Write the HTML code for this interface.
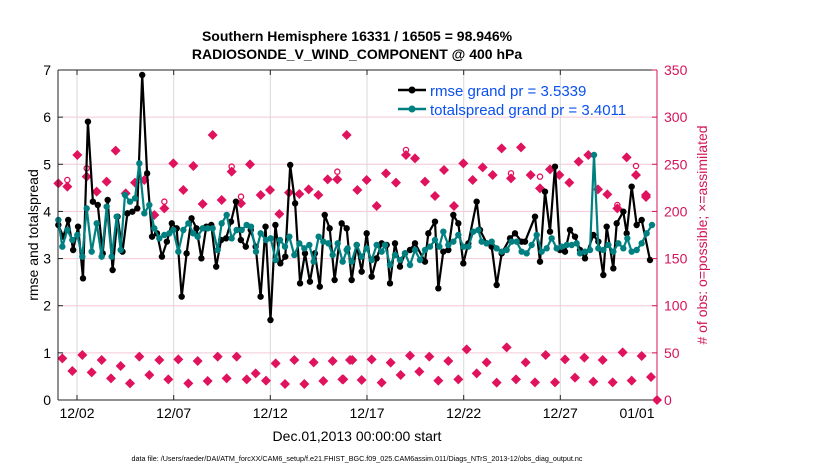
<!DOCTYPE html>
<html><head><meta charset="utf-8"><style>
html,body{margin:0;padding:0;background:#fff;}
svg{display:block;font-family:"Liberation Sans",Arial,sans-serif;}
</style></head><body>
<svg id="s" width="830" height="470" viewBox="0 0 830 470" xmlns="http://www.w3.org/2000/svg">
<rect width="830" height="470" fill="#fff"/>
<g id="grid"></g>
<g id="obs"></g>
<g id="lines"></g>
<g id="axes"></g>
<text x="357" y="41" font-size="14" font-weight="bold" text-anchor="middle">Southern Hemisphere 16331 / 16505 = 98.946%</text>
<text x="357" y="59" font-size="14" font-weight="bold" text-anchor="middle">RADIOSONDE_V_WIND_COMPONENT @ 400 hPa</text>
<text x="357" y="441" font-size="14" text-anchor="middle">Dec.01,2013 00:00:00 start</text>
<text x="357" y="461" font-size="7.2" text-anchor="middle">data file: /Users/raeder/DAI/ATM_forcXX/CAM6_setup/f.e21.FHIST_BGC.f09_025.CAM6assim.011/Diags_NTrS_2013-12/obs_diag_output.nc</text>
<text transform="translate(38,235) rotate(-90)" font-size="14" text-anchor="middle">rmse and totalspread</text>
<text transform="translate(707,235) rotate(-90)" font-size="14" fill="#d4145a" text-anchor="middle"># of obs: o=possible; ×=assimilated</text>
<line x1="398" y1="90" x2="426" y2="90" stroke="#000" stroke-width="2.5"/><circle cx="412" cy="90" r="3.5" fill="#000"/>
<text x="430" y="96" font-size="15" fill="#0a50f0">rmse grand pr = 3.5339</text>
<line x1="398" y1="109" x2="426" y2="109" stroke="#008080" stroke-width="2.5"/><circle cx="412" cy="109" r="3.5" fill="#008080"/>
<text x="430" y="115" font-size="15" fill="#0a50f0">totalspread grand pr = 3.4011</text>
</svg>
<script>
var NS="http://www.w3.org/2000/svg";
function el(p,t,a){var e=document.createElementNS(NS,t);for(var k in a)e.setAttribute(k,a[k]);document.getElementById(p).appendChild(e);return e;}
var L=58,R=657,T=70,B=400;
for(var i=1;i<7;i++){var y=B-i*(B-T)/7;el("grid","line",{x1:L,x2:R,y1:y,y2:y,stroke:"#f4c6d6","stroke-width":1});}
var xt=[77,173.7,270.3,367,463.7,560.3,657],xl=["12/02","12/07","12/12","12/17","12/22","12/27","01/01"];
xt.forEach(function(x,i){if(i<6)el("grid","line",{x1:x,x2:x,y1:T,y2:B,stroke:"#d8d8d8","stroke-width":1});
 el("axes","line",{x1:x,x2:x,y1:B,y2:B-5,stroke:"#222"});el("axes","line",{x1:x,x2:x,y1:T,y2:T+5,stroke:"#222"});
 var t=el("axes","text",{x:x-(i==6?20:0),y:418,"font-size":14,"text-anchor":"middle"});t.textContent=xl[i];});
el("axes","line",{x1:L,x2:R,y1:B,y2:B,stroke:"#222"});el("axes","line",{x1:L,x2:R,y1:T,y2:T,stroke:"#222"});
el("axes","line",{x1:L,x2:L,y1:T,y2:B,stroke:"#222"});el("axes","line",{x1:R,x2:R,y1:T,y2:B,stroke:"#d4145a"});
for(var i=0;i<=7;i++){var y=B-i*(B-T)/7;el("axes","line",{x1:L,x2:L+5,y1:y,y2:y,stroke:"#222"});
 var t=el("axes","text",{x:51,y:y+5,"font-size":14,"text-anchor":"end"});t.textContent=i;
 el("axes","line",{x1:R-5,x2:R,y1:y,y2:y,stroke:"#d4145a"});
 var t2=el("axes","text",{x:664,y:y+5,"font-size":14,fill:"#d4145a"});t2.textContent=i*50;}
var b1=[495,530,480,570,500,655,185,425,435,580,420,630,470,575,460,455,445,45,340,530,520,590,545,490,505,710,580,475,505,595,500,495,620,540,535,485,425,540,560,510,560,710,500,780,495,610,590,315,430,670,580,665,580,680,465,505,660];
var pb=[];b1.forEach(function(zy,i){pb.push([50+(25+i*14.8)/3,60+zy/3]);});
var b2=[[5,490],[20,505],[35,660],[50,555],[65,635],[80,520],[95,650],[110,595],[125,550],[140,555],[150,670],[165,550],[180,620],[195,580],[210,570],[225,550],[255,605],[265,520],[285,485],[295,685],[310,575],[325,570],[340,465],[355,490],[370,610],[385,550],[410,425],[420,510],[440,550],[455,560],[470,675],[485,580],[510,535],[525,520],[545,545],[555,545],[585,470],[600,605],[615,395],[630,515],[645,320],[660,570],[675,575],[690,510],[705,530],[720,570],[735,595],[760,525],[775,545],[790,645],[800,500],[820,625],[830,490],[850,455],[860,520],[875,380],[890,495],[905,480],[930,600]];
b2.forEach(function(p){pb.push([340+p[0]/3,60+p[1]/3]);});
var t1=[[25,480],[37,560],[52,510],[67,540],[82,525],[97,590],[110,445],[125,575],[140,490],[155,590],[170,440],[185,590],[200,470],[212,570],[225,405],[240,425],[255,415],[268,310],[283,460],[298,435],[313,505],[328,535],[343,525],[358,520],[370,510],[385,575],[400,510],[415,490],[430,520],[443,530],[458,505],[473,505],[488,505],[503,570],[515,490],[530,465],[545,535],[560,510],[575,510],[590,495],[603,500],[618,575],[632,520],[648,540],[662,535],[677,600],[690,540],[705,560],[718,530],[733,585],[748,550],[763,565],[778,555],[791,605],[806,530],[820,545],[835,550],[848,585],[863,550],[878,605],[893,565]];
var t2=[[20,570],[35,605],[50,555],[65,590],[80,565],[95,600],[110,555],[125,575],[135,555],[150,615],[165,585],[180,600],[195,580],[210,615],[225,570],[240,600],[255,570],[270,560],[285,540],[298,560],[310,515],[325,555],[340,545],[355,525],[370,560],[385,560],[400,515],[415,510],[425,545],[440,550],[455,545],[470,565],[485,575],[500,570],[515,545],[530,545],[545,575],[560,580],[575,555],[590,525],[605,575],[620,565],[635,535],[650,565],[665,560],[680,555],[695,555],[710,550],[720,580],[735,575],[750,570],[762,285],[775,565],[790,570],[805,555],[820,575],[835,550],[850,565],[862,535],[875,575],[890,570],[905,550],[920,520],[936,495]];
var pt=[];t1.forEach(function(p){pt.push([50+p[0]/3,60+p[1]/3]);});t2.forEach(function(p){pt.push([340+p[0]/3,60+p[1]/3]);});
function draw(pts,c){el("lines","polyline",{points:pts.map(function(p){return p[0].toFixed(1)+","+p[1].toFixed(1)}).join(" "),fill:"none",stroke:c,"stroke-width":2.2,"stroke-linejoin":"round"});
 pts.forEach(function(p){el("lines","circle",{cx:p[0],cy:p[1],r:3.2,fill:c});});}
var PK="#e0135e";
function dia(x,y){el("obs","path",{d:"M"+x+","+(y-5)+"L"+(x+5)+","+y+"L"+x+","+(y+5)+"L"+(x-5)+","+y+"Z",fill:PK});
 el("obs","path",{d:"M"+(x-4)+","+y+"H"+(x+4)+"M"+x+","+(y-4)+"V"+(y+4),stroke:PK,"stroke-width":1.5});}
function circ(x,y){el("obs","circle",{cx:x,cy:y,r:2.6,fill:"none",stroke:PK,"stroke-width":1.3});}
var u1=[[25,370],[52,380,360],[82,285],[110,350,325],[140,395],[170,365],[197,272],[227,400],[255,368],[283,360],[313,465],[343,445,425],[370,310],[400,390],[430,318],[458,432],[488,225],[515,420],[545,335,320],[573,430,410],[600,313],[632,405],[660,390],[688,462],[717,398],[748,402],[776,388],[805,405],[833,358],[862,358,335],[890,225]];
var l1=[[37,895],[67,933],[97,885],[125,937],[155,900],[183,955],[212,918],[240,970],[268,890],[298,945],[328,900],[355,958],[385,898],[415,970],[443,903],[473,963],[503,890],[530,955],[560,890],[590,958],[617,940],[648,962],[677,910],[705,972],[733,900],[763,972],[791,907],[820,963],[848,903],[877,958],[900,900]];
var u2=[[52,390],[80,360],[110,438],[138,340],[168,368],[198,285,270],[225,295],[255,365],[285,408],[312,330],[342,438],[370,310],[398,360],[428,322],[458,345],[485,265],[513,355,340],[543,262],[572,345],[600,385,350],[630,328],[658,345],[688,368],[716,305],[745,285],[774,388],[802,403],[832,445,435],[860,292],[888,345,318],[918,405]];
var l2=[[10,958],[37,900],[65,960],[95,898],[125,968],[152,908],[182,945],[210,887],[238,935],[268,890],[295,962],[325,903],[355,958],[380,868],[410,940],[440,907],[470,968],[500,862],[528,958],[557,907],[585,967],[617,885],[645,967],[675,898],[705,953],[733,893],[760,965],[788,900],[818,967],[848,877],[875,962],[905,888]];
[[u1,50],[l1,50],[u2,340],[l2,340]].forEach(function(g){g[0].forEach(function(p){var x=g[1]+p[0]/3;dia(x,60+p[1]/3);if(p[2])circ(x,60+p[2]/3);});});
dia(646,197);dia(651,377);dia(657,400);
draw(pb,"#000");draw(pt,"#008080");
</script>
</body></html>
